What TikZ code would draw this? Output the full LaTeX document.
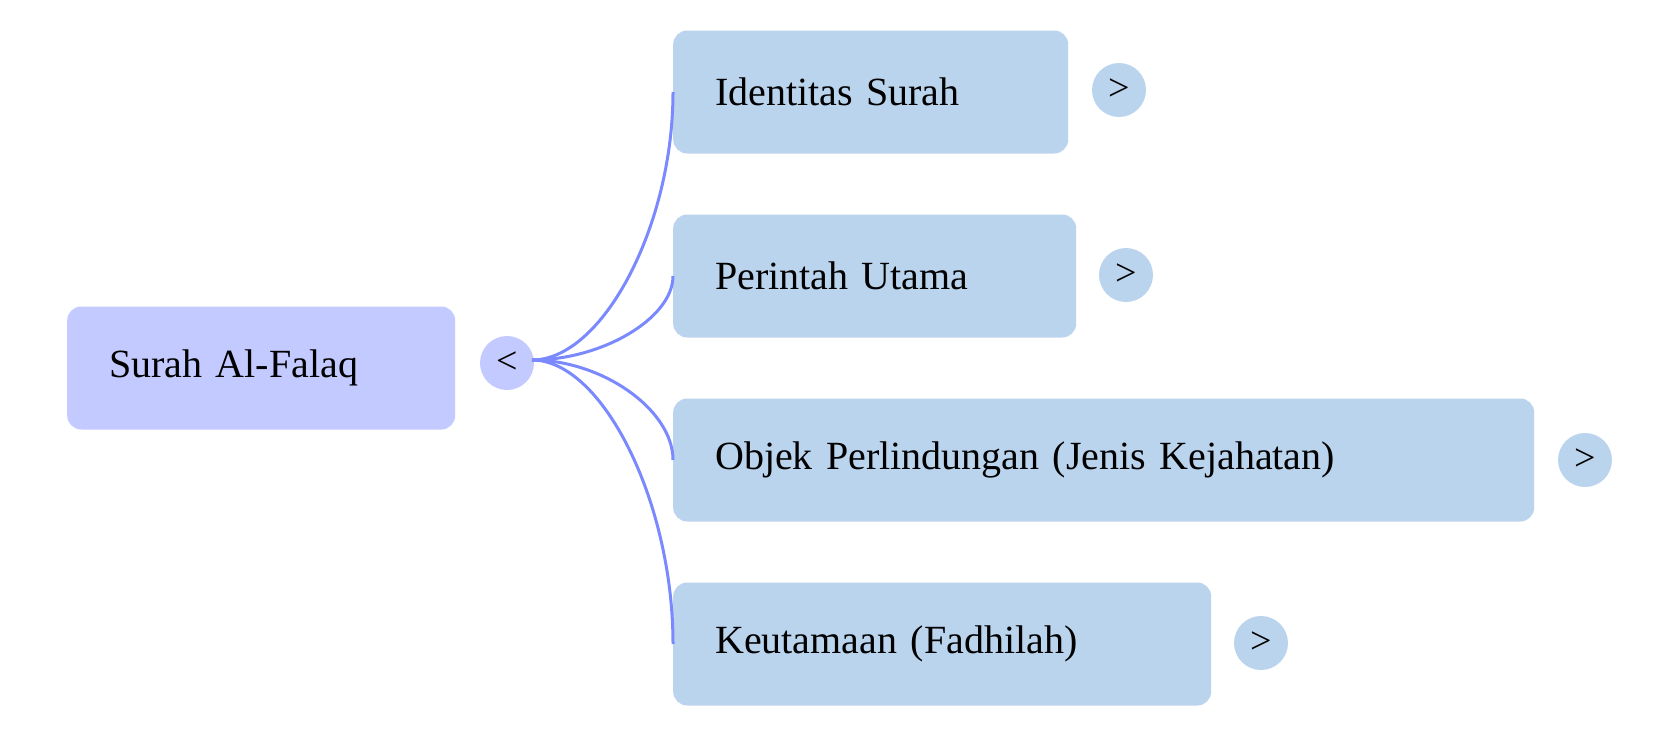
\documentclass[tikz,border=0pt]{standalone}
\usepackage{fontspec}
\setmainfont{Liberation Serif}
\usetikzlibrary{calc}
\begin{document}
\begin{tikzpicture}[x=1pt,y=-1pt,
  box/.style={rounded corners=14pt,draw=none,anchor=west,minimum height=123pt,inner xsep=42pt,align=left,font=\fontsize{40}{48}\selectfont},
  child/.style={box,fill=cbox},
  btn/.style={circle,fill=cbox,minimum size=54pt,inner sep=0pt,font=\fontsize{38}{44}\selectfont},
  link/.style={draw=clink,line width=3pt}]
\definecolor{cbox}{HTML}{BBD4EE}
\definecolor{croot}{HTML}{C3CAFF}
\definecolor{clink}{HTML}{7B89FF}
\useasboundingbox (0,0) rectangle (1680,736);
\node[box,fill=croot,text width=304pt] (root) at (67,368) {Surah Al-Falaq};
\node[btn,fill=croot] (rb) at (507,363) {<};
\node[child,text width=311pt] (c1) at (673,92) {Identitas Surah};
\node[child,text width=319pt] (c2) at (673,276) {Perintah Utama};
\node[child,text width=777pt] (c3) at (673,460) {Objek Perlindungan (Jenis Kejahatan)};
\node[child,text width=454pt] (c4) at (673,644) {Keutamaan (Fadhilah)};
\node[btn] (b1) at (1119,90) {>};
\node[btn] (b2) at (1126,275) {>};
\node[btn] (b3) at (1585,460) {>};
\node[btn] (b4) at (1261,643) {>};
\coordinate (s) at (532,360);
\foreach \c in {c1,c2,c3,c4}{
  \draw[link] (s) .. controls ($(s)!0.5!(s -| \c.west)$) and ($(\c.west)!0.5!(s -| \c.west)$) .. (\c.west);
}
\end{tikzpicture}
\end{document}
